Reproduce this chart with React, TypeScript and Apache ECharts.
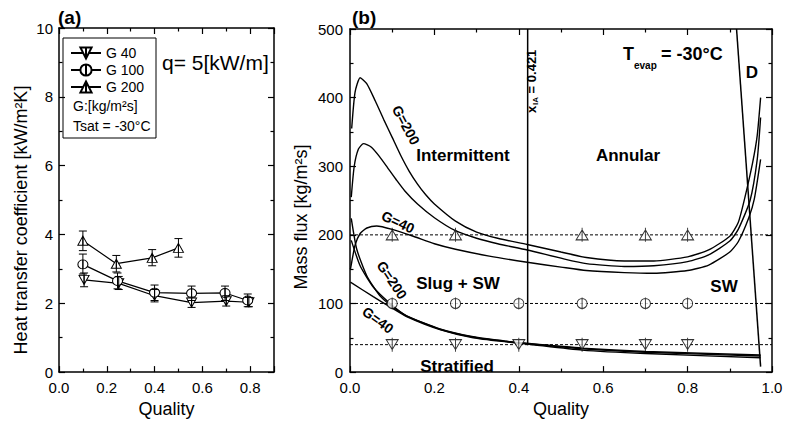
import React, { useEffect, useRef } from 'react';
import * as echarts from 'echarts';

const FONT = '"Liberation Sans", Arial, Helvetica, sans-serif';

// ---------- Panel (a): heat transfer coefficient ----------
const legendNames = ['G 40', 'G 100', 'G 200'];
const qualityA40 = [0.105, 0.25, 0.4, 0.555, 0.7, 0.795];
const htcA40 = [2.68, 2.58, 2.22, 2.02, 2.06, 2.03];
const lowA40 = [2.48, 2.4, 2.04, 1.88, 1.92, 1.9];
const highA40 = [2.88, 2.78, 2.4, 2.18, 2.22, 2.17];

const qualityA100 = [0.1, 0.245, 0.4, 0.555, 0.695, 0.79];
const htcA100 = [3.13, 2.65, 2.31, 2.29, 2.3, 2.08];
const lowA100 = [2.85, 2.42, 2.08, 2.08, 2.08, 1.9];
const highA100 = [3.43, 2.88, 2.53, 2.5, 2.5, 2.27];

const qualityA200 = [0.1, 0.24, 0.39, 0.5];
const htcA200 = [3.82, 3.15, 3.32, 3.61];
const lowA200 = [3.53, 2.91, 3.09, 3.34];
const highA200 = [4.1, 3.39, 3.56, 3.88];

// ---------- Panel (b): flow pattern map ----------
const upperX200 = [0.004, 0.012, 0.024, 0.04, 0.06, 0.08, 0.1, 0.12, 0.14, 0.16, 0.18, 0.2, 0.25, 0.3, 0.35, 0.42, 0.5, 0.56, 0.65, 0.72, 0.8, 0.85, 0.9, 0.92, 0.934, 0.954, 0.965, 0.973];
const upperG200 = [355, 408, 429, 420, 395, 368, 342, 316, 293, 274, 258, 245, 220, 204, 195, 186, 175, 167, 162, 162, 168, 178, 198, 218, 250, 305, 345, 400];

const upperX100 = [0.003, 0.01, 0.02, 0.032, 0.05, 0.07, 0.09, 0.11, 0.13, 0.16, 0.2, 0.25, 0.3, 0.35, 0.42, 0.5, 0.56, 0.65, 0.72, 0.8, 0.85, 0.9, 0.92, 0.948, 0.965, 0.973];
const upperG100 = [255, 300, 325, 333, 328, 314, 297, 280, 264, 245, 225, 206, 195, 187, 178, 166, 158, 154, 155, 161, 171, 191, 208, 250, 310, 371];

const upperX40 = [0.001, 0.004, 0.012, 0.024, 0.04, 0.063, 0.1, 0.15, 0.2, 0.25, 0.33, 0.42, 0.5, 0.56, 0.65, 0.72, 0.8, 0.85, 0.9, 0.92, 0.945, 0.958, 0.973];
const upperG40 = [150, 160, 185, 202, 210, 213, 208, 198, 187, 179, 169, 160, 153, 148, 145, 144, 148, 156, 175, 190, 225, 252, 310];

const stratX200 = [0.003, 0.016, 0.04, 0.071, 0.095, 0.134, 0.213, 0.292, 0.371, 0.419, 0.55, 0.7, 0.973];
const stratG200 = [224, 179, 140, 111, 98, 82, 63, 51.5, 45, 42, 35, 30, 25];
const stratX100 = [0.003, 0.024, 0.055, 0.095, 0.134, 0.213, 0.292, 0.371, 0.419, 0.55, 0.7, 0.973];
const stratG100 = [192, 155, 124, 100, 82, 62.5, 51, 44.5, 41.5, 34, 29, 23.5];
const stratX40 = [0.001, 0.055, 0.095, 0.134, 0.213, 0.292, 0.371, 0.419, 0.55, 0.7, 0.973];
const stratG40 = [131, 110, 95, 81, 62, 50, 44, 41, 32, 27, 21];

const xIA = 0.421;
const xIALine = [39, 500];
const dryoutX = [0.916, 0.973];
const dryoutY = [500, 8];

const massLevels = [200, 100, 40];
const markX200 = [0.1, 0.25, 0.55, 0.7, 0.8];
const markX100 = [0.1, 0.25, 0.4, 0.55, 0.7, 0.8];
const markX40 = [0.1, 0.25, 0.4, 0.55, 0.7, 0.8];

// ---------- symbols ----------
const SYM_TRI_DOWN = 'path://M0,0 L10,0 L5,9 Z M5,0 L5,9';
const SYM_CIRCLE = 'path://M5,0 A5,5 0 1,1 5,10 A5,5 0 1,1 5,0 Z M5,0 L5,10';
const SYM_TRI_UP = 'path://M5,0 L10,9 L0,9 Z M5,0 L5,9';
const SYM_B_TRI_DOWN = 'path://M6,0 L6,14 M0,2 L12,2 L6,12 Z';
const SYM_B_TRI_UP = 'path://M6,0 L6,14 M6,2 L12,12 L0,12 Z';
const SYM_B_CIRCLE = 'path://M6,0 L6,12 M6,1 A5,5 0 1,1 6,11 A5,5 0 1,1 6,1 Z';

const zip = (xs: number[], ys: number[]) => xs.map((x, i) => [x, ys[i]]);
const zip3 = (xs: number[], a: number[], b: number[]) => xs.map((x, i) => [x, a[i], b[i]]);

const axisLine = { show: true, onZero: false, lineStyle: { color: '#000', width: 1.5 } };
const axisTick = { show: true, inside: true, length: 6, lineStyle: { color: '#000', width: 1.2 } };
const minorTick = { show: true, splitNumber: 2, length: 3.5, lineStyle: { color: '#000', width: 1.2 } };
const labelStyle = { color: '#000', fontSize: 15, fontFamily: FONT };

function errorBarSeries(name: string, data: number[][]) {
  return {
    type: 'custom',
    name,
    xAxisIndex: 0,
    yAxisIndex: 0,
    z: 5,
    silent: true,
    encode: { x: 0, y: [1, 2] },
    data,
    renderItem: (_params: any, api: any) => {
      const x = api.value(0);
      const p1 = api.coord([x, api.value(1)]);
      const p2 = api.coord([x, api.value(2)]);
      const hw = 4;
      const st = { stroke: '#000', lineWidth: 1 };
      return {
        type: 'group',
        children: [
          { type: 'line', shape: { x1: p1[0], y1: p1[1], x2: p2[0], y2: p2[1] }, style: st },
          { type: 'line', shape: { x1: p1[0] - hw, y1: p1[1], x2: p1[0] + hw, y2: p1[1] }, style: st },
          { type: 'line', shape: { x1: p2[0] - hw, y1: p2[1], x2: p2[0] + hw, y2: p2[1] }, style: st },
        ],
      };
    },
  };
}

function htcSeries(name: string, xs: number[], ys: number[], symbol: string) {
  return {
    type: 'line',
    name,
    xAxisIndex: 0,
    yAxisIndex: 0,
    data: zip(xs, ys),
    symbol,
    symbolSize: [10, 9],
    showAllSymbol: true,
    z: 4,
    lineStyle: { color: '#000', width: 1.2 },
    itemStyle: { color: '#fff', borderColor: '#000', borderWidth: 1 },
  };
}

function curve(name: string, xs: number[], ys: number[]) {
  return {
    type: 'line',
    name,
    xAxisIndex: 2,
    yAxisIndex: 2,
    data: zip(xs, ys),
    symbol: 'none',
    smooth: 0.2,
    silent: true,
    lineStyle: { color: '#000', width: 1.4 },
  };
}

function dashed(level: number) {
  return {
    type: 'line',
    name: 'level' + level,
    xAxisIndex: 2,
    yAxisIndex: 2,
    data: [[0, level], [1, level]],
    symbol: 'none',
    silent: true,
    lineStyle: { color: '#000', width: 1, type: [3, 2] },
  };
}

function markers(name: string, xs: number[], level: number, symbol: string, size: number[]) {
  return {
    type: 'scatter',
    name,
    xAxisIndex: 2,
    yAxisIndex: 2,
    data: xs.map((x) => [x, level]),
    symbol,
    symbolSize: size,
    z: 6,
    silent: true,
    itemStyle: { color: '#fff', borderColor: '#000', borderWidth: 1 },
  };
}

function txt(text: string, x: number, y: number, size: number, opts: any = {}) {
  const align = opts.align || 'left';
  return {
    type: 'text',
    x,
    y,
    rotation: opts.rotation || 0,
    silent: true,
    style: {
      text,
      fill: '#000',
      fontSize: size,
      fontWeight: opts.bold ? 'bold' : 'normal',
      fontFamily: FONT,
      textAlign: align,
      align,
      textVerticalAlign: 'middle',
      verticalAlign: 'middle',
    },
  };
}

const option: any = {
  animation: false,
  backgroundColor: '#fff',
  grid: [
    { left: 59, top: 28, width: 215, height: 350 },
    { left: 350, top: 29, width: 422, height: 344 },
  ],
  xAxis: [
    {
      gridIndex: 0, type: 'value', min: 0, max: 0.9, interval: 0.2, position: 'bottom',
      name: 'Quality', nameLocation: 'middle', nameGap: 25,
      nameTextStyle: { color: '#000', fontSize: 18, fontFamily: FONT },
      axisLine, axisTick, minorTick, splitLine: { show: false },
      axisLabel: { ...labelStyle, margin: 8, showMaxLabel: false, formatter: (v: number) => v.toFixed(1) },
    },
    {
      gridIndex: 0, type: 'value', min: 0, max: 0.9, interval: 0.2, position: 'top',
      axisLine, axisTick, minorTick, splitLine: { show: false }, axisLabel: { show: false },
    },
    {
      gridIndex: 1, type: 'value', min: 0, max: 1, interval: 0.2, position: 'bottom',
      name: 'Quality', nameLocation: 'middle', nameGap: 25,
      nameTextStyle: { color: '#000', fontSize: 18, fontFamily: FONT },
      axisLine, axisTick, minorTick, splitLine: { show: false },
      axisLabel: { ...labelStyle, margin: 8, formatter: (v: number) => v.toFixed(1) },
    },
    {
      gridIndex: 1, type: 'value', min: 0, max: 1, interval: 0.2, position: 'top',
      axisLine, axisTick, minorTick, splitLine: { show: false }, axisLabel: { show: false },
    },
  ],
  yAxis: [
    {
      gridIndex: 0, type: 'value', min: 0, max: 10, interval: 2, position: 'left',
      axisLine, axisTick, minorTick, splitLine: { show: false },
      axisLabel: { ...labelStyle, margin: 6 },
    },
    {
      gridIndex: 0, type: 'value', min: 0, max: 10, interval: 2, position: 'right',
      axisLine, axisTick, minorTick, splitLine: { show: false }, axisLabel: { show: false },
    },
    {
      gridIndex: 1, type: 'value', min: 0, max: 500, interval: 100, position: 'left',
      axisLine, axisTick, minorTick, splitLine: { show: false },
      axisLabel: { ...labelStyle, margin: 7 },
    },
    {
      gridIndex: 1, type: 'value', min: 0, max: 500, interval: 100, position: 'right',
      axisLine, axisTick, minorTick, splitLine: { show: false }, axisLabel: { show: false },
    },
  ],
  legend: {
    data: legendNames,
    orient: 'vertical',
    left: 70,
    top: 46,
    padding: 0,
    itemWidth: 30,
    itemHeight: 14,
    itemGap: 3,
    selectedMode: false,
    textStyle: { color: '#000', fontSize: 14, fontFamily: FONT },
  },
  series: [
    htcSeries(legendNames[0], qualityA40, htcA40, SYM_TRI_DOWN),
    htcSeries(legendNames[1], qualityA100, htcA100, SYM_CIRCLE),
    htcSeries(legendNames[2], qualityA200, htcA200, SYM_TRI_UP),
    errorBarSeries('err40', zip3(qualityA40, lowA40, highA40)),
    errorBarSeries('err100', zip3(qualityA100, lowA100, highA100)),
    errorBarSeries('err200', zip3(qualityA200, lowA200, highA200)),

    dashed(massLevels[0]),
    dashed(massLevels[1]),
    dashed(massLevels[2]),
    curve('upper200', upperX200, upperG200),
    curve('upper100', upperX100, upperG100),
    curve('upper40', upperX40, upperG40),
    curve('strat200', stratX200, stratG200),
    curve('strat100', stratX100, stratG100),
    curve('strat40', stratX40, stratG40),
    {
      type: 'line', name: 'xIA', xAxisIndex: 2, yAxisIndex: 2, symbol: 'none', silent: true,
      data: xIALine.map((y) => [xIA, y]),
      lineStyle: { color: '#000', width: 1.5 },
    },
    {
      type: 'line', name: 'dryout', xAxisIndex: 2, yAxisIndex: 2, symbol: 'none', silent: true,
      data: zip(dryoutX, dryoutY),
      lineStyle: { color: '#000', width: 1.5 },
    },
    markers('m200', markX200, massLevels[0], SYM_B_TRI_UP, [12, 14]),
    markers('m100', markX100, massLevels[1], SYM_B_CIRCLE, [10, 12]),
    markers('m40', markX40, massLevels[2], SYM_B_TRI_DOWN, [12, 14]),
  ],
  graphic: [
    { type: 'rect', silent: true, shape: { x: 63, y: 38, width: 93, height: 100 }, style: { fill: 'none', stroke: '#000', lineWidth: 1 } },
    txt('G:[kg/m²s]', 73, 106, 14),
    txt('Tsat = -30°C', 73, 126, 14),
    txt('q= 5[kW/m]', 162, 62, 21),
    txt('(a)', 58, 17, 19, { bold: true }),
    txt('(b)', 352, 17, 19, { bold: true }),
    txt('Heat transfer coefficient [kW/m²K]', 21, 220, 18, { align: 'center', rotation: Math.PI / 2 }),
    txt('Mass flux [kg/m²s]', 301, 217, 18, { align: 'center', rotation: Math.PI / 2 }),

    txt('Intermittent', 463, 155, 17, { bold: true, align: 'center' }),
    txt('Annular', 628, 155, 17, { bold: true, align: 'center' }),
    txt('Slug + SW', 458, 283, 17, { bold: true, align: 'center' }),
    txt('SW', 724, 286, 17, { bold: true, align: 'center' }),
    txt('Stratified', 457, 366, 17, { bold: true, align: 'center' }),
    txt('D', 752, 72, 17, { bold: true, align: 'center' }),
    txt('T', 623, 54, 18, { bold: true }),
    txt('evap', 634, 65, 10, { bold: true }),
    txt('= -30°C', 661, 54, 18, { bold: true }),

    txt('G=200', 406, 125, 14, { bold: true, align: 'center', rotation: -1.08 }),
    txt('G=40', 398, 222, 14, { bold: true, align: 'center', rotation: -0.44 }),
    txt('G=200', 392, 280, 14, { bold: true, align: 'center', rotation: -0.98 }),
    txt('G=40', 378, 320, 14, { bold: true, align: 'center', rotation: -0.63 }),

    {
      type: 'group', x: 531, y: 113, rotation: Math.PI / 2, silent: true,
      children: [
        txt('x', 0, 0, 13, { bold: true }),
        txt('IA', 8, 4, 8, { bold: true }),
        txt(' = 0.421', 16, 0, 13, { bold: true }),
      ],
    },
  ],
};

export default function App() {
  const ref = useRef<HTMLDivElement>(null);
  useEffect(() => {
    if (!ref.current) return;
    const chart = echarts.init(ref.current, null, { renderer: 'svg' });
    chart.setOption(option);
    return () => chart.dispose();
  }, []);
  return (
    <div
      ref={ref}
      style={{ position: 'fixed', left: 0, top: 0, width: 787, height: 423, background: '#fff' }}
    />
  );
}
